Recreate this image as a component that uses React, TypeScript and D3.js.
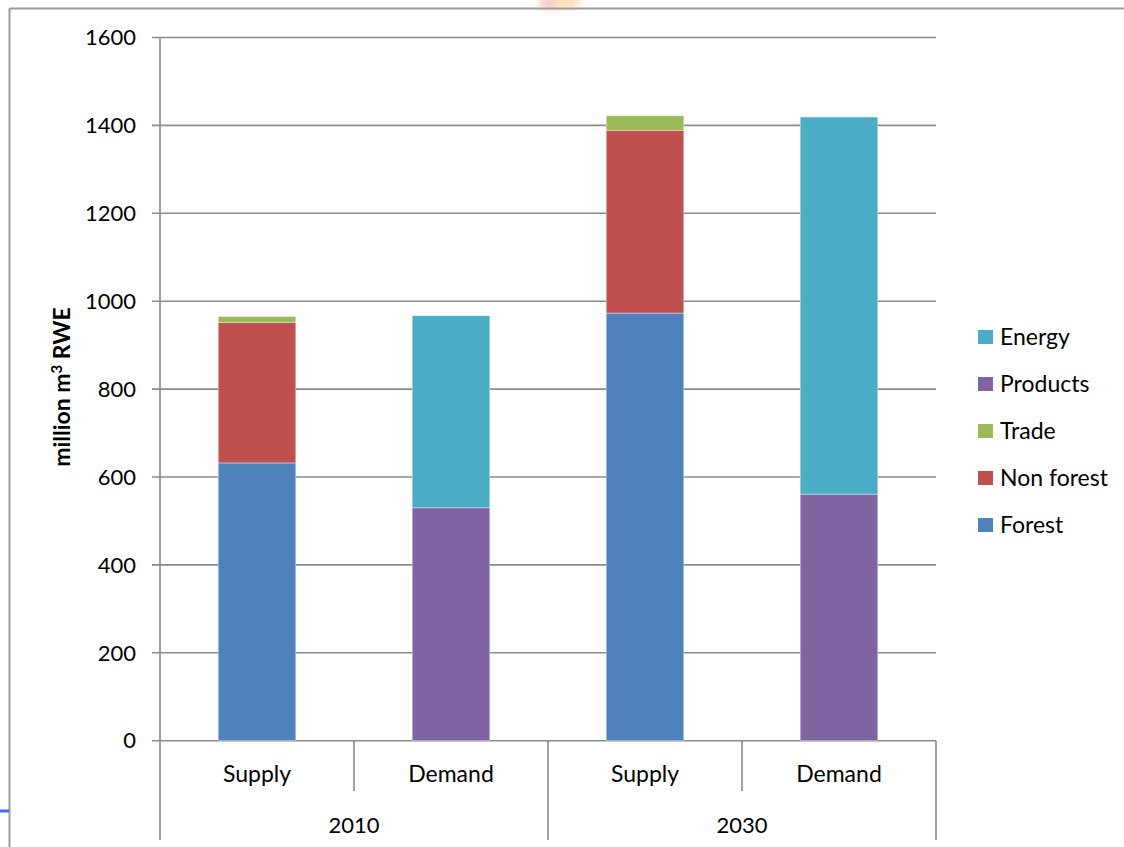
import React from "react";
import * as d3 from "d3";

const categories = ["Supply", "Demand", "Supply", "Demand"];
const years = ["2010", "2030"];
const forest = [632, 0, 973, 0];
const nonForest = [320, 0, 416, 0];
const trade = [13, 0, 33, 0];
const products = [0, 530, 0, 561];
const energy = [0, 437, 0, 858];
const yTicks = [0, 200, 400, 600, 800, 1000, 1200, 1400, 1600];

const seriesNames = ["Forest", "Non forest", "Trade", "Products", "Energy"];
const seriesColors = ["#4F81BD", "#C0504D", "#9BBB59", "#8064A2", "#4BACC6"];
const legendOrder = ["Energy", "Products", "Trade", "Non forest", "Forest"];

const FONT = "Lato, 'Open Sans', sans-serif";

export default function App() {
  const W = 1124, H = 847;
  const x0 = 160, x1 = 936, yTop = 37.5, yBot = 740.7;
  const y = d3.scaleLinear().domain([0, 1600]).range([yBot, yTop]);
  const x = d3.scaleBand<number>().domain(d3.range(categories.length)).range([x0, x1]).padding(0);
  const yearScale = d3.scaleBand<string>().domain(years).range([x0, x1]).padding(0);
  const barFrac = 0.4;
  const bw = x.bandwidth() * barFrac;

  const table = categories.map((c, i) => ({
    Forest: forest[i],
    "Non forest": nonForest[i],
    Trade: trade[i],
    Products: products[i],
    Energy: energy[i],
  }));
  const stack = d3.stack<any>().keys(seriesNames)(table);
  const color = d3.scaleOrdinal<string, string>().domain(seriesNames).range(seriesColors);

  return (
    <svg width={W} height={H} style={{ position: "absolute", left: 0, top: 0, background: "#fff" }}>
      <defs>
        <filter id="blur" x="-50%" y="-50%" width="200%" height="200%">
          <feGaussianBlur stdDeviation="3" />
        </filter>
      </defs>
      {/* faint watermark at top */}
      <g filter="url(#blur)" opacity={0.3}>
        <ellipse cx={560} cy={2} rx={22} ry={8} fill="#f0a020" />
        <ellipse cx={548} cy={4} rx={8} ry={6} fill="#e05050" />
      </g>
      {/* frame */}
      <line x1={9.5} y1={8.5} x2={W} y2={8.5} stroke="#9a9a9a" strokeWidth={2} />
      <line x1={9.5} y1={8.5} x2={9.5} y2={H} stroke="#9a9a9a" strokeWidth={2} />
      <line x1={0} y1={811} x2={9} y2={811} stroke="#3a6cf0" strokeWidth={3} />

      {/* gridlines */}
      {yTicks.map((t) => (
        <line key={"g" + t} x1={152} x2={x1} y1={y(t)} y2={y(t)} stroke="#8a8a8a" strokeWidth={1.6} />
      ))}
      {/* y axis */}
      <line x1={x0} x2={x0} y1={yTop} y2={840} stroke="#8a8a8a" strokeWidth={1.6} />
      {yTicks.map((t) => (
        <text key={"t" + t} x={136} y={y(t)} dy="0.35em" textAnchor="end" fontFamily={FONT} fontSize={22} fill="#000">
          {t}
        </text>
      ))}
      <text
        transform={`translate(70,${(yTop + yBot) / 2 - 2}) rotate(-90)`}
        textAnchor="middle"
        fontFamily={FONT}
        fontSize={23}
        fontWeight="bold"
        fill="#000"
      >
        million m<tspan dy={-8} fontSize={15}>3</tspan><tspan dy={8}> RWE</tspan>
      </text>

      {/* bars */}
      {stack.map((s) => (
        <g key={s.key} fill={color(s.key)}>
          {s.map((d, i) =>
            d[1] - d[0] > 0 ? (
              <rect
                key={i}
                x={(x(i) as number) + (x.bandwidth() - bw) / 2}
                y={y(d[1])}
                width={bw}
                height={y(d[0]) - y(d[1])}
                stroke="#ffffff"
                strokeOpacity={0.5}
                strokeWidth={0.8}
              />
            ) : null
          )}
        </g>
      ))}

      {/* category axis */}
      {categories.map((c, i) => (
        <g key={"c" + i}>
          {i % 2 === 1 ? (
            <line x1={x(i)!} x2={x(i)!} y1={yBot} y2={791} stroke="#8a8a8a" strokeWidth={1.6} />
          ) : null}
          <text x={x(i)! + x.bandwidth() / 2} y={782} textAnchor="middle" fontFamily={FONT} fontSize={23} fill="#000">
            {c}
          </text>
        </g>
      ))}
      {years.map((yr) => (
        <g key={yr}>
          <line x1={yearScale(yr)! + yearScale.bandwidth()} x2={yearScale(yr)! + yearScale.bandwidth()} y1={yBot} y2={840} stroke="#8a8a8a" strokeWidth={1.6} />
          <text x={yearScale(yr)! + yearScale.bandwidth() / 2} y={833} textAnchor="middle" fontFamily={FONT} fontSize={22} fill="#000">
            {yr}
          </text>
        </g>
      ))}

      {/* legend */}
      {legendOrder.map((name, i) => (
        <g key={name} transform={`translate(978,${337 + i * 47})`}>
          <rect x={0} y={-7} width={15} height={14} fill={color(name)} />
          <text x={22} y={0} dy="0.35em" fontFamily={FONT} fontSize={23} fill="#000">
            {name}
          </text>
        </g>
      ))}
    </svg>
  );
}
